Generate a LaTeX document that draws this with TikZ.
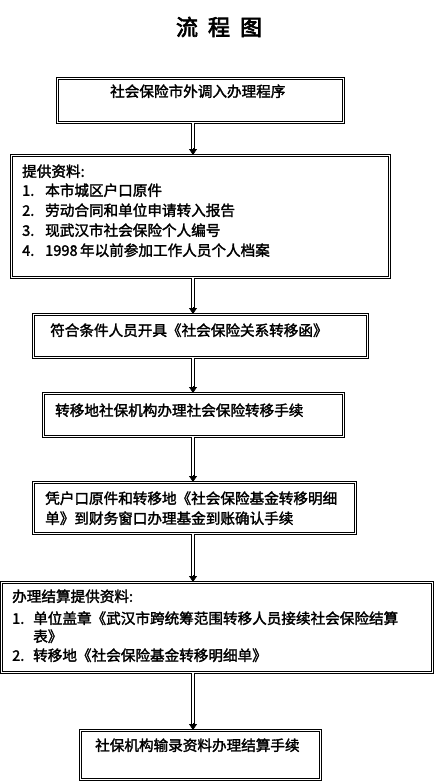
\documentclass[tikz,border=0pt]{standalone}
\usepackage{fontspec}
\setmainfont{Noto Sans CJK SC}[FakeBold=2]
\newfontfamily\titlefont{Noto Sans CJK SC}[FakeBold=3]
\usetikzlibrary{arrows.meta,calc}
\begin{document}
\begin{tikzpicture}[x=1pt,y=-1pt,
  boxx/.style={draw,line width=0.8pt,double,double distance=1pt,rectangle,inner sep=0pt},
  shaft/.style={draw,line width=0.9pt,double,double distance=1.6pt},
  tipp/.style={-{Triangle[length=6pt,width=8pt]},line width=0.8pt},
  txt/.style={anchor=west,inner sep=0pt,font=\fontsize{14.6}{18}\selectfont,text height=0.88em,text depth=0.12em}]
\useasboundingbox (0,0) rectangle (434,781);
\node[font=\titlefont\fontsize{22}{24}\selectfont] (title) at (219,27) {流\hspace{10pt}程\hspace{10pt}图};
\coordinate (ax) at (193,0);
% boxes
\node[boxx,minimum width=286pt,minimum height=44pt,anchor=north west] (b1) at (57,78) {};
\node[boxx,minimum width=378pt,minimum height=122pt,anchor=north west] (b2) at (11,155) {};
\node[boxx,minimum width=334pt,minimum height=43pt,anchor=north west] (b3) at (33,314) {};
\node[boxx,minimum width=300pt,minimum height=43pt,anchor=north west] (b4) at (43,393) {};
\node[boxx,minimum width=322pt,minimum height=51pt,anchor=north west] (b5) at (33,482) {};
\node[boxx,minimum width=431pt,minimum height=90pt,anchor=north west] (b6) at (1,582) {};
\node[boxx,minimum width=240pt,minimum height=49pt,anchor=north west] (b7) at (80,730) {};
% texts
\node[txt] (t1) at (110,93) {社会保险市外调入办理程序};
\node[txt] (t2h) at (22,173) {提供资料:};
\node[txt] (t2n1) at (22,192) {1.};
\node[txt] (t2a) at (45,192) {本市城区户口原件};
\node[txt] (t2n2) at (22,212) {2.};
\node[txt] (t2b) at (45,212) {劳动合同和单位申请转入报告};
\node[txt] (t2n3) at (22,232) {3.};
\node[txt] (t2c) at (45,232) {现武汉市社会保险个人编号};
\node[txt] (t2n4) at (22,252) {4.};
\node[txt] (t2d) at (45,252) {1998\,年以前参加工作人员个人档案};
\node[txt] (t3) at (50,332) {符合条件人员开具《社会保险关系转移函》};
\node[txt] (t4) at (55,412) {转移地社保机构办理社会保险转移手续};
\node[txt] (t5a) at (45,500) {凭户口原件和转移地《社会保险基金转移明细};
\node[txt] (t5b) at (45,520) {单》到财务窗口办理基金到账确认手续};
\node[txt] (t6h) at (12,598) {办理结算提供资料:};
\node[txt] (t6n1) at (12,620) {1.};
\node[txt] (t6a) at (33,620) {单位盖章《武汉市跨统筹范围转移人员接续社会保险结算};
\node[txt] (t6a2) at (33,638) {表》};
\node[txt] (t6n2) at (12,657) {2.};
\node[txt] (t6b) at (33,657) {转移地《社会保险基金转移明细单》};
\node[txt] (t7) at (95,747) {社保机构输录资料办理结算手续};
% arrows
\foreach \a/\b in {b1/b2,b2/b3,b3/b4,b4/b5,b5/b6,b6/b7}{
  \draw[shaft] (\a.south -| ax) -- ($(\b.north -| ax)+(0,-5)$);
  \draw[tipp] ($(\b.north -| ax)+(0,-7)$) -- (\b.north -| ax);
}
\end{tikzpicture}
\end{document}
